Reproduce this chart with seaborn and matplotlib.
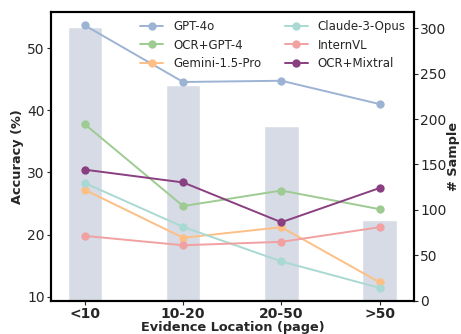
import matplotlib
matplotlib.use("Agg")
import matplotlib.pyplot as plt
import seaborn as sns
import pandas as pd
import numpy as np

sns.set_style("ticks")
plt.rcParams['font.family'] = ['DejaVu Sans']

categories = ["<10", "10-20", "20-50", ">50"]
samples = [302, 238, 192, 89]
models = ["GPT-4o", "OCR+GPT-4", "Gemini-1.5-Pro", "Claude-3-Opus", "InternVL", "OCR+Mixtral"]
gpt4o = [53.65, 44.55, 44.75, 41.0]
ocr_gpt4 = [37.75, 24.6, 27.1, 24.1]
gemini = [27.2, 19.5, 21.2, 12.35]
claude = [28.3, 21.25, 15.7, 11.45]
internvl = [19.8, 18.3, 18.85, 21.2]
ocr_mixtral = [30.45, 28.4, 22.0, 27.5]
series = [gpt4o, ocr_gpt4, gemini, claude, internvl, ocr_mixtral]
colors = ["#9db3d3", "#9dcb91", "#fdbf85", "#a9d9d2", "#f1a1a2", "#8a3f80"]

pos = list(range(len(categories)))

fig, ax = plt.subplots(figsize=(4.61, 3.34), dpi=100)
ax2 = ax.twinx()

bar_df = pd.DataFrame({"x": pos, "n": samples})
sns.barplot(data=bar_df, x="x", y="n", ax=ax2, color="#d6dbe6", width=0.35,
            saturation=1, native_scale=True)
ax2.set_ylabel("# Sample", fontweight="bold", fontsize=9.3, labelpad=0)
ax2.set_ylim(0, 318)
ax2.set_yticks([0, 50, 100, 150, 200, 250, 300])

for name, vals, c in zip(models, series, colors):
    df = pd.DataFrame({"x": pos, "y": vals})
    sns.lineplot(data=df, x="x", y="y", ax=ax, color=c, marker="o", markersize=6,
                 markeredgewidth=0, linewidth=1.4, label=name)

ax.set_zorder(ax2.get_zorder() + 1)
ax.patch.set_visible(False)
ax.set_ylim(9.4, 55.8)
ax.set_xlim(-0.345, 3.35)
ax.set_xticks(pos)
ax.set_xticklabels(categories, fontweight="bold", fontsize=10)
ax.set_yticks([10, 20, 30, 40, 50])
ax.set_xlabel("Evidence Location (page)", fontweight="bold", fontsize=9.3, labelpad=0)
ax.set_ylabel("Accuracy (%)", fontweight="bold", fontsize=9.3, labelpad=2)
ax.tick_params(axis="both", labelsize=10, length=3, pad=1.5)
ax2.tick_params(axis="y", labelsize=10, length=3, pad=1.5)
for a in (ax, ax2):
    for s in a.spines.values():
        s.set_linewidth(1.5)
        s.set_color("black")
ax.legend(loc="upper right", ncol=2, frameon=False, fontsize=8.5,
          handlelength=1.95, handletextpad=0.85, columnspacing=1.95,
          borderaxespad=0.3, labelspacing=0.45)

fig.subplots_adjust(left=0.1106, right=0.898, top=0.964, bottom=0.1)
fig.savefig("out.png", dpi=100)
